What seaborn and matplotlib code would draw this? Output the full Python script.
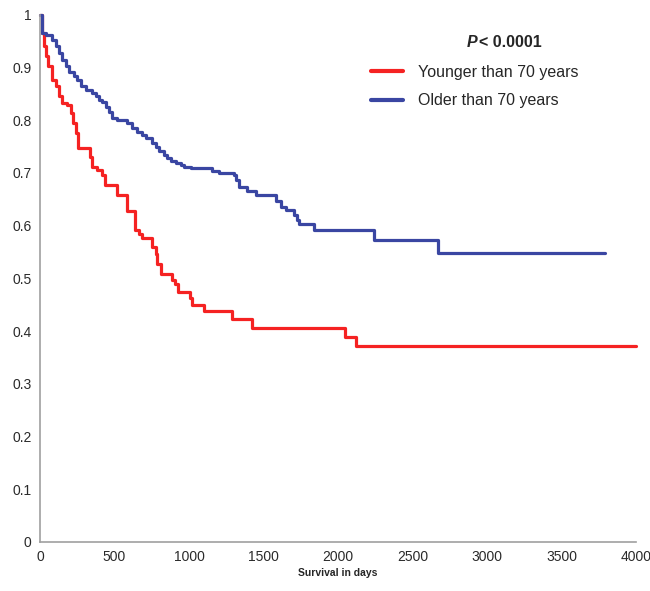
import matplotlib
matplotlib.use("Agg")
import matplotlib.pyplot as plt
import seaborn as sns

# ---------- data (day of step, survival after step) ----------
young_days = [0, 11, 27, 38, 56, 83, 105, 128, 150, 183, 206, 221, 239, 255, 333,
              351, 385, 418, 436, 519, 586, 635, 664, 682, 754, 776, 787, 810, 888,
              905, 929, 1005, 1019, 1100, 1292, 1423, 2046, 2121, 4000]
young_surv = [1.0, 0.965, 0.94, 0.921, 0.902, 0.877, 0.864, 0.845, 0.832, 0.829,
              0.813, 0.794, 0.775, 0.748, 0.731, 0.712, 0.706, 0.696, 0.677, 0.658,
              0.627, 0.592, 0.585, 0.577, 0.560, 0.547, 0.528, 0.508, 0.497, 0.49,
              0.475, 0.4625, 0.45, 0.4375, 0.422, 0.406, 0.389, 0.372, 0.372]

old_days = [0, 16, 38, 83, 105, 128, 150, 172, 195, 228, 251, 273, 306, 351, 374,
            396, 418, 441, 463, 485, 519, 586, 620, 653, 687, 709, 754, 776, 799,
            832, 855, 877, 910, 944, 966, 1011, 1157, 1201, 1302, 1318, 1335, 1391,
            1447, 1582, 1615, 1649, 1705, 1727, 1738, 1839, 2242, 2671, 3790]
old_surv = [1.0, 0.965, 0.962, 0.953, 0.940, 0.927, 0.915, 0.902, 0.892, 0.883,
            0.877, 0.864, 0.858, 0.851, 0.845, 0.839, 0.835, 0.826, 0.816, 0.804,
            0.801, 0.794, 0.785, 0.778, 0.772, 0.766, 0.756, 0.750, 0.741, 0.734,
            0.728, 0.722, 0.718, 0.715, 0.712, 0.709, 0.703, 0.699, 0.696, 0.687,
            0.674, 0.665, 0.658, 0.646, 0.636, 0.630, 0.620, 0.611, 0.604, 0.592,
            0.573, 0.548, 0.548]

x_ticks = [0, 500, 1000, 1500, 2000, 2500, 3000, 3500, 4000]
y_ticks = [0, 0.1, 0.2, 0.3, 0.4, 0.5, 0.6, 0.7, 0.8, 0.9, 1.0]
y_ticklabels = ["0", "0.1", "0.2", "0.3", "0.4", "0.5", "0.6", "0.7", "0.8", "0.9", "1"]

sns.set_style("white")
plt.rcParams["font.family"] = ["Liberation Sans", "DejaVu Sans"]

fig = plt.figure(figsize=(6.5, 5.91), dpi=100)
ax = fig.add_axes([0.0615, 0.083, 0.917, 0.892])

sns.lineplot(x=young_days, y=young_surv, ax=ax, color="#f52222", lw=2.3,
             drawstyle="steps-post", label="Younger than 70 years")
sns.lineplot(x=old_days, y=old_surv, ax=ax, color="#3a46a2", lw=2.3,
             drawstyle="steps-post", label="Older than 70 years")

ax.set_xlim(0, 4000)
ax.set_ylim(0, 1.0)
ax.set_xticks(x_ticks)
ax.set_yticks(y_ticks)
ax.set_yticklabels(y_ticklabels)
ax.tick_params(axis="both", direction="inout", length=6, width=1,
               color="#a0a0a0", labelsize=10, labelcolor="#2a2a2a", pad=3)
for side in ["top", "right"]:
    ax.spines[side].set_visible(False)
for side in ["left", "bottom"]:
    ax.spines[side].set_color("#a0a0a0")
    ax.spines[side].set_linewidth(1.2)
for ln in ax.lines:
    ln.set_clip_on(False)

ax.set_xlabel("Survival in days", fontsize=7.5, fontweight="bold", labelpad=3)
ax.set_ylabel("")

leg = ax.legend(loc="upper left", bbox_to_anchor=(0.555, 0.905), frameon=False,
                fontsize=11.5, handlelength=2.0, handletextpad=0.95,
                labelspacing=0.85, borderpad=0, borderaxespad=0)
for h in leg.get_lines():
    h.set_linewidth(3)

ax.text(0.733, 0.948, "P", transform=ax.transAxes, fontsize=11.5,
        fontweight="bold", fontstyle="italic", ha="right", va="center")
ax.text(0.737, 0.948, "< 0.0001", transform=ax.transAxes, fontsize=11.5,
        fontweight="bold", ha="left", va="center")

fig.savefig("out.png", dpi=100)
